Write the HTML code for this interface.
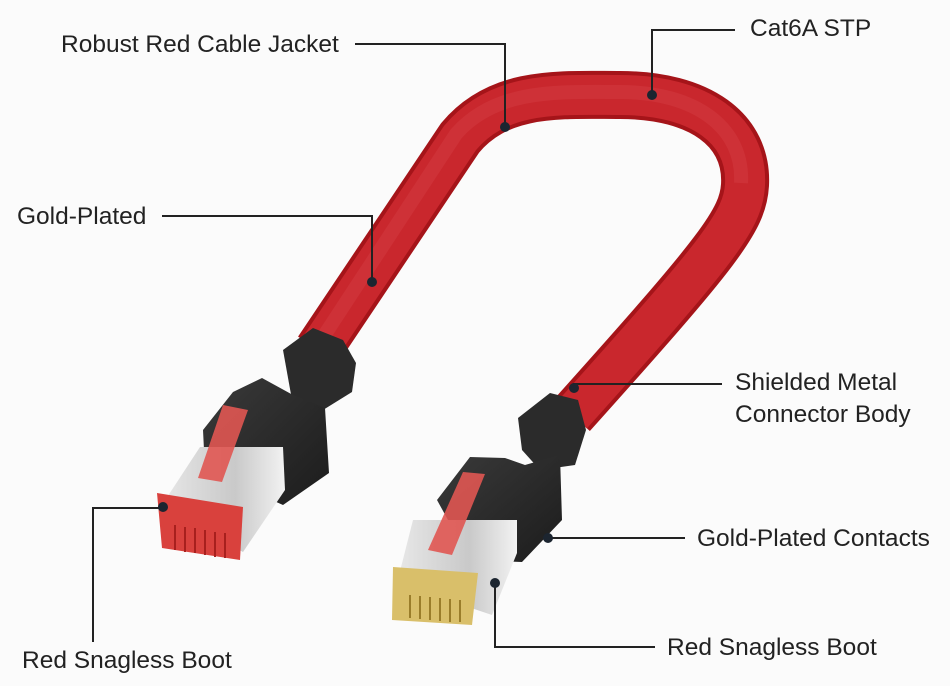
<!DOCTYPE html>
<html><head><meta charset="utf-8"><style>
html,body{margin:0;padding:0;background:#fbfbfb;}
svg{display:block}
text{font-family:"Liberation Sans","DejaVu Sans",sans-serif;font-size:24.5px;fill:#222;}
</style></head><body>
<svg width="950" height="686" viewBox="0 0 950 686" xmlns="http://www.w3.org/2000/svg">
<defs>
<linearGradient id="metal" x1="0" y1="0" x2="1" y2="0">
<stop offset="0" stop-color="#e8e8e8"/><stop offset="0.6" stop-color="#c9c9c9"/><stop offset="1" stop-color="#f2f2f2"/></linearGradient>
<linearGradient id="blk" x1="0" y1="0" x2="1" y2="1">
<stop offset="0" stop-color="#3a3a3a"/><stop offset="1" stop-color="#1c1c1c"/></linearGradient>
</defs>
<rect width="950" height="686" fill="#fbfbfb"/>
<!-- cable -->
<path d="M318 350 L460 138 C500 90 560 95 620 95 C700 95 748 130 745 185 C743 220 720 250 572 415" fill="none" stroke="#a51419" stroke-width="48" stroke-linecap="butt"/>
<path d="M318 350 L460 138 C500 90 560 95 620 95 C700 95 748 130 745 185 C743 220 720 250 572 415" fill="none" stroke="#c9272d" stroke-width="40"/>
<path d="M316 348 L456 134 C496 88 560 92 620 92 C696 92 744 128 741 183" fill="none" stroke="#d43c42" stroke-width="14" opacity="0.5"/>

<!-- left connector -->
<polygon points="283,350 313,328 343,340 356,363 352,392 323,410 292,400" fill="#2b2b2b"/>
<polygon points="203,430 233,392 262,378 293,395 325,408 329,473 283,505 205,470" fill="url(#blk)"/>
<polygon points="200,447 283,447 285,490 243,552 160,508" fill="url(#metal)"/>
<polygon points="157,493 243,507 240,560 162,548" fill="#d9413d"/>
<g stroke="#a8201e" stroke-width="2"><line x1="175" y1="525" x2="175" y2="550"/><line x1="185" y1="527" x2="185" y2="552"/><line x1="195" y1="528" x2="195" y2="553"/><line x1="205" y1="530" x2="205" y2="555"/><line x1="215" y1="532" x2="215" y2="557"/><line x1="225" y1="533" x2="225" y2="558"/></g>
<polygon points="223,405 248,410 222,482 198,478" fill="#e05652" opacity="0.9"/>

<!-- right connector -->
<polygon points="518,418 550,393 578,400 586,430 575,465 540,470 522,450" fill="#2b2b2b"/>
<polygon points="437,500 470,457 505,458 525,465 560,455 562,520 522,562 470,560" fill="url(#blk)"/>
<polygon points="413,520 517,520 517,553 492,615 397,583" fill="url(#metal)"/>
<polygon points="393,567 478,573 472,625 392,620" fill="#d9bf6a"/>
<g stroke="#9a7d2a" stroke-width="2"><line x1="410" y1="595" x2="410" y2="618"/><line x1="420" y1="596" x2="420" y2="619"/><line x1="430" y1="597" x2="430" y2="620"/><line x1="440" y1="598" x2="440" y2="621"/><line x1="450" y1="599" x2="450" y2="622"/><line x1="460" y1="600" x2="460" y2="622"/></g>
<polygon points="463,472 485,474 452,555 428,550" fill="#e05652" opacity="0.9"/>

<!-- callouts -->
<g stroke="#222" stroke-width="2" fill="none">
<polyline points="355,44 505,44 505,127"/>
<polyline points="735,30 652,30 652,95"/>
<polyline points="162,216 372,216 372,282"/>
<polyline points="722,384 574,384 574,388"/>
<polyline points="685,538 548,538"/>
<polyline points="93,642 93,508 163,508"/>
<polyline points="655,647 495,647 495,583"/>
</g>
<g fill="#1c2530">
<circle cx="505" cy="127" r="5"/><circle cx="652" cy="95" r="5"/><circle cx="372" cy="282" r="5"/>
<circle cx="574" cy="388" r="5"/><circle cx="548" cy="538" r="5"/><circle cx="163" cy="507" r="5"/><circle cx="495" cy="583" r="5"/>
</g>
<text x="61" y="52">Robust Red Cable Jacket</text>
<text x="750" y="36">Cat6A STP</text>
<text x="17" y="224">Gold-Plated</text>
<text x="735" y="390">Shielded Metal</text>
<text x="735" y="422">Connector Body</text>
<text x="697" y="546">Gold-Plated Contacts</text>
<text x="22" y="668">Red Snagless Boot</text>
<text x="667" y="655">Red Snagless Boot</text>
</svg>
</body></html>
